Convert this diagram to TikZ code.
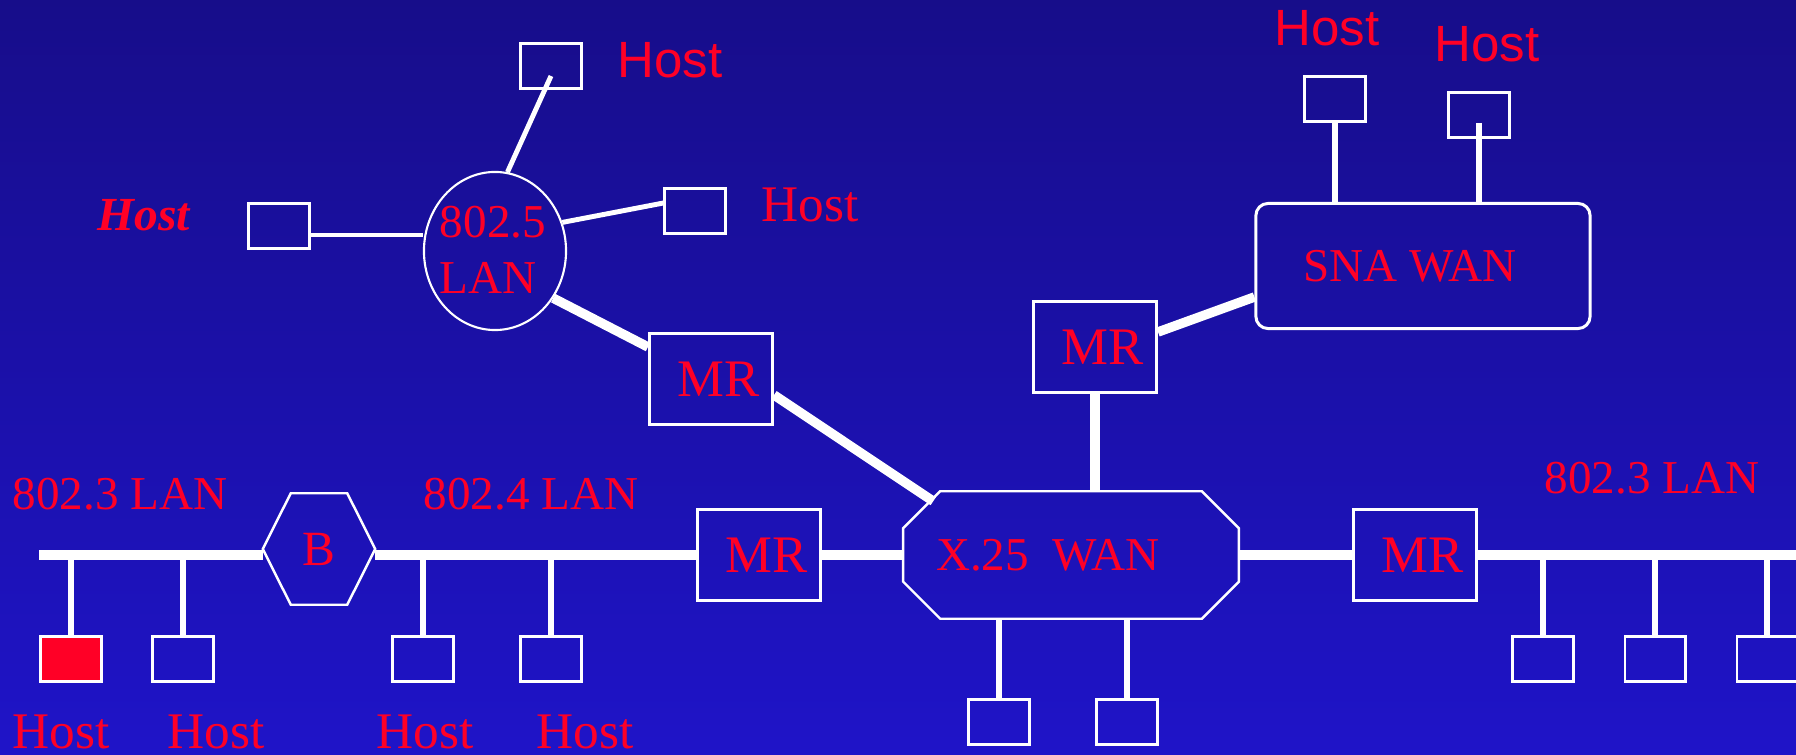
\documentclass[tikz,border=0pt]{standalone}
\usepackage{fontspec}
\setmainfont{Liberation Serif}
\newfontfamily\arialfont{Liberation Sans}
\usetikzlibrary{shapes.geometric, calc}
\definecolor{bgtop}{RGB}{23,13,138}
\definecolor{bgbottom}{RGB}{31,20,200}
\definecolor{labelred}{RGB}{255,0,38}
\tikzset{
    host/.style={rectangle, draw=white, line width=0.85pt, minimum width=0.6cm, minimum height=0.44cm, inner sep=0pt},
    router/.style={rectangle, draw=white, line width=0.85pt, minimum width=1.23cm, minimum height=0.91cm, inner sep=0pt, text=labelred, font=\fontsize{15}{18}\selectfont},
    netname/.style={text=labelred, inner sep=0pt, font=\fontsize{13.4}{16}\selectfont},
    hostname/.style={text=labelred, inner sep=0pt, font=\fontsize{14.6}{17}\selectfont},
    hostsans/.style={text=labelred, inner sep=0pt, font=\arialfont\fontsize{14.5}{17}\selectfont},
    outline/.style={white, line width=0.7pt},
    bus/.style={white, line width=3.1pt},
    drop/.style={white, line width=1.7pt},
    link/.style={white, line width=1.4pt},
    trunk/.style={white, line width=2.7pt},
}
\begin{document}
\begin{tikzpicture}[x=0.01cm, y=-0.01cm]
    \shade[top color=bgtop, bottom color=bgbottom] (0,0) rectangle (1796,755);
    \useasboundingbox (0,0) rectangle (1796,755);

    \node[ellipse, draw=white, line width=0.6pt, minimum width=1.42cm, minimum height=1.58cm, inner sep=0pt] (ring) at (495,251) {};
    \node[netname, align=left] (ringname) at (493,250) {802.5\\LAN};
    \node[rectangle, minimum width=3.34cm, minimum height=1.26cm, inner sep=0pt, netname] (wan) at (1071,555) {X.25~~WAN\hspace*{0.46cm}};
    \draw[outline] ([xshift=0.37cm]wan.north west) -- ([xshift=-0.37cm]wan.north east) -- ([yshift=-0.37cm]wan.north east) -- ([yshift=0.37cm]wan.south east) -- ([xshift=-0.37cm]wan.south east) -- ([xshift=0.37cm]wan.south west) -- ([yshift=0.37cm]wan.south west) -- ([yshift=-0.37cm]wan.north west) -- cycle;
    \node[rectangle, minimum width=1.11cm, minimum height=1.1cm, inner sep=0pt, netname, font=\fontsize{14}{16}\selectfont] (bridge) at (319,549) {B};
    \draw[outline] (bridge.west) -- ([xshift=0.28cm]bridge.north west) -- ([xshift=-0.28cm]bridge.north east) -- (bridge.east) -- ([xshift=-0.28cm]bridge.south east) -- ([xshift=0.28cm]bridge.south west) -- cycle;
    \node[rectangle, rounded corners=0.12cm, draw=white, line width=0.85pt, minimum width=3.34cm, minimum height=1.25cm, netname] (sna) at (1423,266) {SNA WAN\hspace*{0.26cm}};

    \node[router] (mra) at (711,379) {\hspace*{0.16cm}MR};
    \node[router] (mrb) at (1095,347) {\hspace*{0.16cm}MR};
    \node[router] (mrc) at (759,555) {\hspace*{0.16cm}MR};
    \node[router] (mrd) at (1415,555) {\hspace*{0.16cm}MR};

    \node[host] (hostt) at (551,66) {};
    \node[host] (hostr) at (695,211) {};
    \node[host] (hostl) at (279,226) {};
    \node[host] (snaa) at (1335,99) {};
    \node[host] (snab) at (1479,115) {};
    \node[host, fill=labelred] (lana) at (71,659) {};
    \node[host] (lanb) at (183,659) {};
    \node[host] (lanc) at (423,659) {};
    \node[host] (land) at (551,659) {};
    \node[host] (wana) at (999,722) {};
    \node[host] (wanb) at (1127,722) {};
    \node[host] (rlana) at (1543,659) {};
    \node[host] (rlanb) at (1655,659) {};
    \node[host] (rlanc) at (1767,659) {};

    \node[hostsans] (hostttext) at (670,60) {Host};
    \node[hostname] (hostrtext) at (810,205) {Host};
    \node[text=labelred, inner sep=0pt, font=\bfseries\itshape\fontsize{13.5}{15}\selectfont] (hostltext) at (144,215) {Host};
    \node[hostsans] (snaatext) at (1327,28) {Host};
    \node[hostsans] (snabtext) at (1487,44) {Host};
    \node[hostname] (lanatext) at (61,732) {Host};
    \node[hostname] (lanbtext) at (216,732) {Host};
    \node[hostname] (lanctext) at (425,732) {Host};
    \node[hostname] (landtext) at (585,732) {Host};

    \node[netname] (lanlname) at (120,494) {802.3 LAN};
    \node[netname] (lanmname) at (531,494) {802.4 LAN};
    \node[netname] (lanrname) at (1652,478) {802.3 LAN};

    \coordinate (busl) at (39,555);
    \coordinate (busr) at (1800,555);

    \draw[drop] (lana) -- (lana |- busl);
    \draw[drop] (lanb) -- (lanb |- busl);
    \draw[drop] (lanc) -- (lanc |- busl);
    \draw[drop] (land) -- (land |- busl);
    \draw[drop] (rlana) -- (rlana |- busl);
    \draw[drop] (rlanb) -- (rlanb |- busl);
    \draw[drop] (rlanc) -- (rlanc |- busl);
    \draw[drop] (wana) -- (wana |- wan.south);
    \draw[drop] (wanb) -- (wanb |- wan.south);

    \draw[bus] (busl) -- (bridge.west |- busl);
    \draw[bus] (bridge.east |- busl) -- (mrc.west);
    \draw[bus] (mrc.east) -- (wan.west |- busl);
    \draw[bus] (wan.east |- busl) -- (mrd.west);
    \draw[bus] (mrd.east) -- (busr);

    \draw[link] ([yshift=-0.09cm]hostl.east) -- ([yshift=-0.09cm]hostl.east -| ring.west);
    \draw[link] ([yshift=-0.1cm]hostt.center) -- (ring.81);
    \draw[link] (ring.23) -- ([yshift=0.08cm]hostr.west);
    \draw[trunk] (ring.-39) -- ([yshift=-0.15cm]mra.north west);
    \draw[trunk] ([yshift=-0.16cm]mra.east) -- ([xshift=0.3cm, yshift=-0.1cm]wan.north west);
    \draw[trunk] (mrb.south) -- (mrb.south |- wan.north);
    \draw[trunk] ([yshift=0.15cm]mrb.east) -- ([yshift=-0.31cm]sna.west);
    \draw[drop] (snaa) -- (snaa |- sna.north);
    \draw[drop] ([yshift=-0.08cm]snab.center) -- (snab.center |- sna.north);
\end{tikzpicture}
\end{document}
